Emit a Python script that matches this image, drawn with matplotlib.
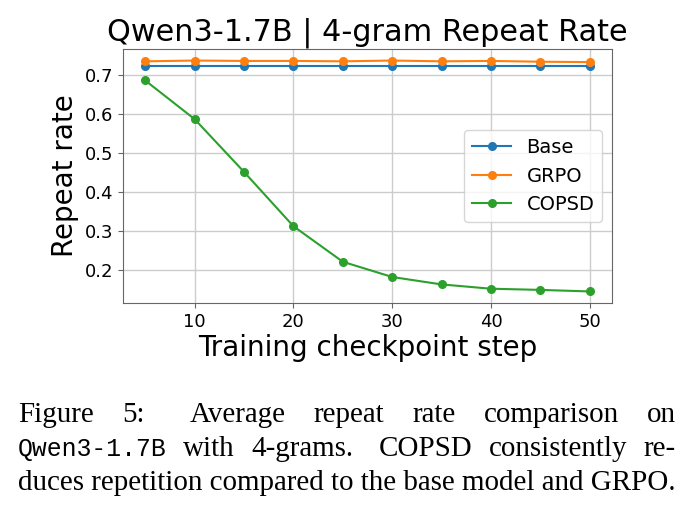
import matplotlib
matplotlib.use("Agg")
import matplotlib.pyplot as plt

# ---- data ----
steps = [5, 10, 15, 20, 25, 30, 35, 40, 45, 50]
base = [0.723, 0.723, 0.723, 0.723, 0.723, 0.723, 0.723, 0.723, 0.723, 0.723]
grpo = [0.735, 0.737, 0.736, 0.736, 0.735, 0.737, 0.735, 0.736, 0.734, 0.733]
copsd = [0.686, 0.587, 0.452, 0.313, 0.222, 0.183, 0.164, 0.153, 0.150, 0.146]
series_names = ["Base", "GRPO", "COPSD"]
title = "Qwen3-1.7B | 4-gram Repeat Rate"
xlabel = "Training checkpoint step"
ylabel = "Repeat rate"

caption_lines = [
    [("Figure", "serif"), ("5:", "serif"), ("", "gap"), ("Average", "serif"), ("repeat", "serif"),
     ("rate", "serif"), ("comparison", "serif"), ("on", "serif")],
    [("Qwen3-1.7B", "mono"), ("with", "serif"), ("4-grams.", "serif"), ("", "gap"), ("COPSD", "serif"),
     ("consistently", "serif"), ("re-", "serif")],
    [("duces repetition compared to the base model and GRPO.", "serif")],
]
justify = [True, True, False]

W, H = 691, 517
fig = plt.figure(figsize=(W / 100, H / 100), dpi=100)
ax = fig.add_axes([123 / W, 1 - 303 / H, (612 - 123) / W, (303 - 49) / H])

colors = ["#1f77b4", "#ff7f0e", "#2ca02c"]
for vals, name, c in zip([base, grpo, copsd], series_names, colors):
    ax.plot(steps, vals, marker="o", ms=5.5, lw=1.5, color=c, label=name)

ax.set_title(title, fontsize=21.8, pad=6)
ax.set_xlabel(xlabel, fontsize=20, labelpad=2)
ax.set_ylabel(ylabel, fontsize=20, labelpad=4)
ax.tick_params(labelsize=13, color="#666666")
ax.set_xticks([10, 20, 30, 40, 50])
ax.set_yticks([0.2, 0.3, 0.4, 0.5, 0.6, 0.7])
ax.grid(True, color="#cccccc", lw=1.0)
ax.set_axisbelow(True)
for s in ax.spines.values():
    s.set_color("#666666")
leg = ax.legend(loc="center right", fontsize=14)

# ---- caption (justified lines) ----
fig.canvas.draw()
renderer = fig.canvas.get_renderer()
left_px, right_px = 18, 676
baselines = [422, 456, 490]
fs_serif = 20.85
fs_mono = 17.8

for line, just, by in zip(caption_lines, justify, baselines):
    items = []
    for word, kind in line:
        if kind == "gap":
            items.append(None)
            continue
        fam = "Liberation Mono" if kind == "mono" else "Liberation Serif"
        fs = fs_mono if kind == "mono" else fs_serif
        t = fig.text(0, 1 - by / H, word, family=fam, fontsize=fs, va="baseline", ha="left")
        items.append(t)
    widths = []
    for t in items:
        if t is None:
            widths.append(0)
        else:
            widths.append(t.get_window_extent(renderer).width)
    if just and len(items) > 1:
        ngaps = sum(1 for t in items if t is not None) - 1
        nextra = sum(1 for t in items if t is None)
        total = sum(widths)
        gap = (right_px - left_px - total) / (ngaps + 0.6 * nextra)
        x = left_px
        for t, w in zip(items, widths):
            if t is None:
                x += 0.6 * gap
                continue
            t.set_x(x / W)
            x += w + gap
    else:
        for t in items:
            if t is not None:
                t.set_x(left_px / W)

fig.savefig("out.png", dpi=100)
